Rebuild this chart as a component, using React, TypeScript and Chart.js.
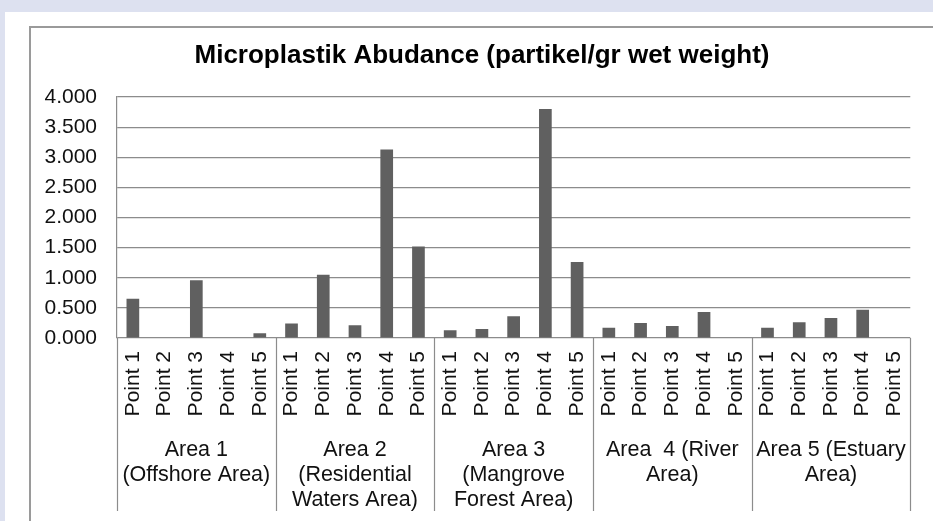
import { useEffect, useRef } from "react";
import { Chart, registerables } from "chart.js";

Chart.register(...registerables);

const chartTitle = "Microplastik Abudance (partikel/gr wet weight)";
const pointLabels = ["Point 1", "Point 2", "Point 3", "Point 4", "Point 5"];
const areaLabels = [
  ["Area 1", "(Offshore Area)"],
  ["Area 2", "(Residential", "Waters Area)"],
  ["Area 3", "(Mangrove", "Forest Area)"],
  ["Area  4 (River", "Area)"],
  ["Area 5 (Estuary", "Area)"],
];
const area1Values = [0.65, 0, 0.96, 0, 0.08];
const area2Values = [0.24, 1.05, 0.21, 3.13, 1.52];
const area3Values = [0.13, 0.15, 0.36, 3.8, 1.26];
const area4Values = [0.17, 0.25, 0.2, 0.43, 0];
const area5Values = [0.17, 0.26, 0.33, 0.47, 0];
const yMin = 0;
const yMax = 4;
const yStep = 0.5;

const FONT = "'Liberation Sans', Arial, sans-serif";

export default function App() {
  const ref = useRef<HTMLCanvasElement | null>(null);

  useEffect(() => {
    document.body.style.margin = "0";
    const canvas = ref.current;
    if (!canvas) return;

    const labels = areaLabels.flatMap(() => pointLabels);
    const values = [
      ...area1Values,
      ...area2Values,
      ...area3Values,
      ...area4Values,
      ...area5Values,
    ];

    const backgroundPlugin = {
      id: "bgFrame",
      beforeDraw(chart: any) {
        const ctx = chart.ctx;
        const w = chart.width;
        const h = chart.height;
        ctx.save();
        ctx.fillStyle = "#dde1f0";
        ctx.fillRect(0, 0, w, h);
        ctx.fillStyle = "#ffffff";
        ctx.fillRect(5, 12, w - 5, h - 12);
        ctx.strokeStyle = "#9a9a9a";
        ctx.lineWidth = 2;
        ctx.beginPath();
        ctx.moveTo(30, h);
        ctx.lineTo(30, 27);
        ctx.lineTo(w, 27);
        ctx.stroke();
        // title
        ctx.fillStyle = "#000000";
        ctx.font = `bold 26px ${FONT}`;
        ctx.textAlign = "center";
        ctx.textBaseline = "middle";
        ctx.fillText(chartTitle, 482, 56);
        ctx.restore();
      },
    };

    const groupPlugin = {
      id: "groupLabels",
      afterDraw(chart: any) {
        const ctx = chart.ctx;
        const xs = chart.scales.x;
        const area = chart.chartArea;
        const n = pointLabels.length;
        const half = (xs.getPixelForValue(1) - xs.getPixelForValue(0)) / 2;
        ctx.save();
        ctx.strokeStyle = "#8c8c8c";
        ctx.lineWidth = 1.2;
        for (let g = 0; g <= areaLabels.length; g++) {
          const idx = g * n;
          const x =
            g < areaLabels.length
              ? xs.getPixelForValue(idx) - half
              : xs.getPixelForValue(idx - 1) + half;
          ctx.beginPath();
          ctx.moveTo(Math.round(x) + 0.5, area.bottom);
          ctx.lineTo(Math.round(x) + 0.5, area.bottom + 173);
          ctx.stroke();
        }
        ctx.fillStyle = "#111111";
        ctx.font = `21.5px ${FONT}`;
        ctx.textAlign = "center";
        ctx.textBaseline = "middle";
        areaLabels.forEach((lines, g) => {
          const cx =
            (xs.getPixelForValue(g * n) + xs.getPixelForValue(g * n + n - 1)) / 2;
          lines.forEach((line, i) => {
            ctx.fillText(line, cx, area.bottom + 112 + i * 25);
          });
        });
        ctx.restore();
      },
    };

    const chart = new Chart(canvas, {
      type: "bar",
      data: {
        labels,
        datasets: [
          {
            data: values,
            backgroundColor: "#606060",
            borderWidth: 0,
            barPercentage: 0.4,
            categoryPercentage: 1,
          },
        ],
      },
      options: {
        responsive: false,
        animation: false,
        layout: { padding: { left: 0, right: 19, top: 97, bottom: 0 } },
        plugins: {
          legend: { display: false },
          tooltip: { enabled: false },
          title: { display: false },
        },
        scales: {
          x: {
            grid: { display: false, drawTicks: false },
            border: { display: false },
            ticks: {
              autoSkip: false,
              minRotation: 90,
              maxRotation: 90,
              padding: 13,
              color: "#111111",
              font: { family: FONT, size: 21 },
            },
            afterFit: (s: any) => {
              s.height = 183;
            },
          },
          y: {
            min: yMin,
            max: yMax,
            grid: { color: "#8c8c8c", lineWidth: 1.2, drawTicks: false },
            border: { display: true, color: "#8c8c8c", width: 1.2 },
            ticks: {
              stepSize: yStep,
              padding: 20,
              color: "#111111",
              font: { family: FONT, size: 21 },
              callback: (v: any) => Number(v).toFixed(3),
            },
            afterFit: (s: any) => {
              s.width = 117;
            },
          },
        },
      },
      plugins: [backgroundPlugin, groupPlugin],
    } as any);

    return () => chart.destroy();
  }, []);

  return (
    <canvas
      ref={ref}
      width={933}
      height={521}
      style={{ display: "block", width: 933, height: 521 }}
    />
  );
}
